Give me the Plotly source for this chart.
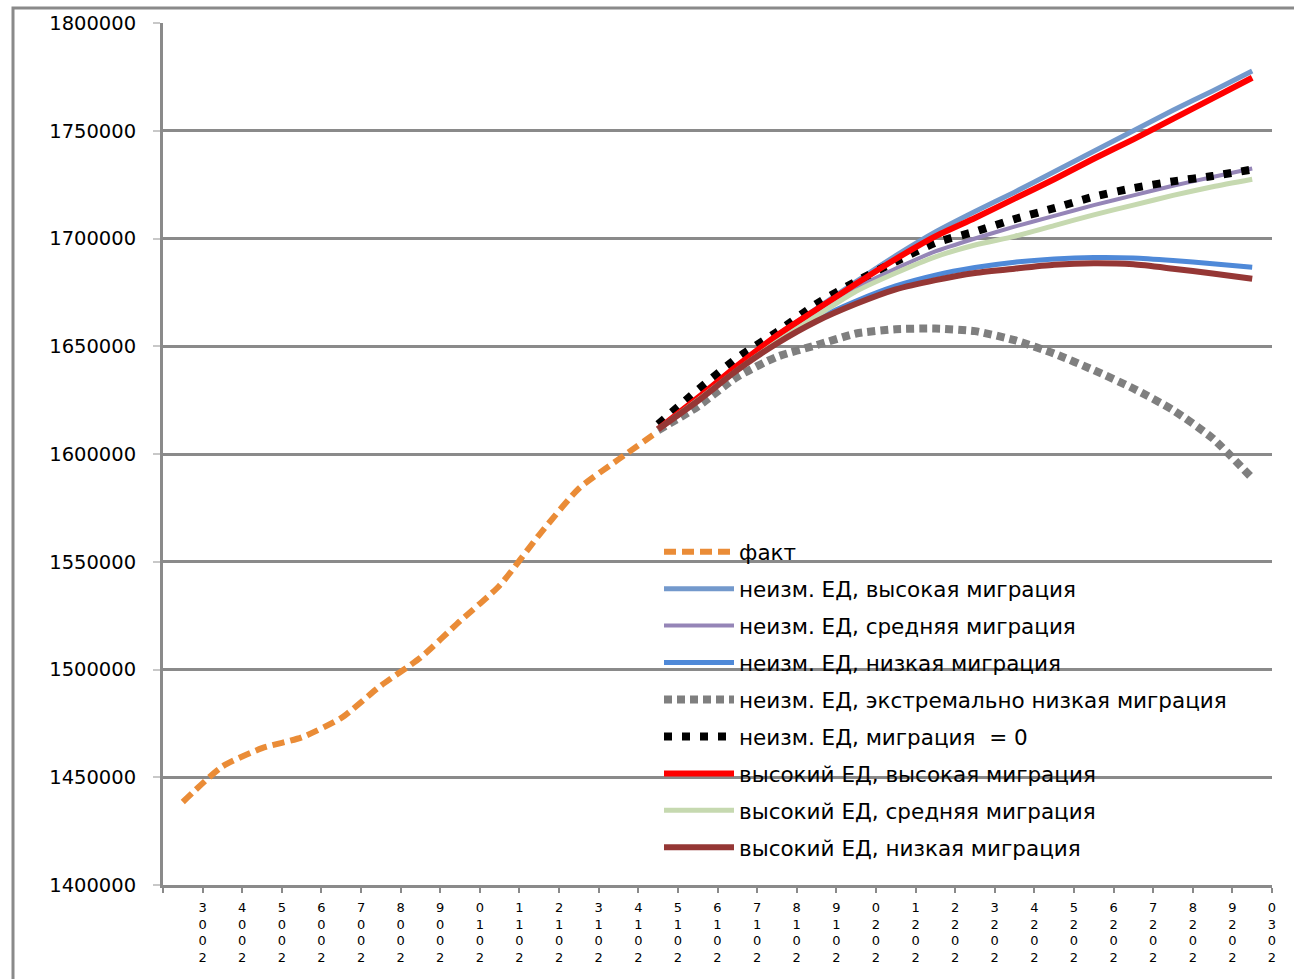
import plotly.graph_objects as go

# ---------------- data ----------------
fact_years = list(range(2003, 2016))
fact = [1438500, 1455000, 1463500, 1468500, 1477500, 1492500, 1505500,
        1522500, 1539000, 1562500, 1584000, 1597500, 1610500]

proj_years = list(range(2015, 2031))
unch_high = [1611500, 1626000, 1641000, 1655000, 1667500, 1680000, 1692000, 1703000,
             1712500, 1721500, 1731000, 1740500, 1750000, 1759500, 1768500, 1777700]
unch_mid = [1611500, 1625500, 1639500, 1652500, 1665000, 1677000, 1686000, 1694000,
            1700000, 1705500, 1710500, 1715500, 1720000, 1724500, 1728500, 1732500]
unch_low = [1611500, 1625000, 1639200, 1651800, 1662500, 1671000, 1678000, 1683000,
            1686500, 1689000, 1690500, 1691200, 1691000, 1689800, 1688300, 1686700]
unch_extlow = [1611000, 1622000, 1635800, 1645100, 1650500, 1655900, 1657900, 1658200,
               1657000, 1652800, 1646600, 1638900, 1630400, 1620400, 1607300, 1588800]
unch_zero = [1613800, 1629700, 1644600, 1656600, 1669700, 1680100, 1689300, 1698000,
             1703200, 1709000, 1714100, 1719400, 1723400, 1726500, 1729000, 1732000]
high_high = [1611500, 1626000, 1641000, 1655000, 1667000, 1679000, 1690500, 1701000,
             1709500, 1718500, 1727500, 1737000, 1746000, 1755500, 1765000, 1774600]
high_mid = [1611500, 1625000, 1639000, 1652000, 1664000, 1675500, 1684000, 1691500,
            1697000, 1701000, 1706000, 1711000, 1715500, 1720000, 1724000, 1727500]
high_low = [1611500, 1624600, 1638900, 1651300, 1661600, 1669700, 1676400, 1680700,
            1684000, 1686000, 1687800, 1688500, 1688000, 1686000, 1683800, 1681300]

label_years = list(range(2003, 2031))

names = ["факт",
         "неизм. ЕД, высокая миграция",
         "неизм. ЕД, средняя миграция",
         "неизм. ЕД, низкая миграция",
         "неизм. ЕД, экстремально низкая миграция",
         "неизм. ЕД, миграция  = 0",
         "высокий ЕД, высокая миграция",
         "высокий ЕД, средняя миграция",
         "высокий ЕД, низкая миграция"]

# ---------------- figure ----------------
series = [
    (fact_years, fact, "#EA8C37", 6, "12px,6px"),
    (proj_years, unch_high, "#7399CC", 5, "solid"),
    (proj_years, unch_mid, "#9585B7", 4, "solid"),
    (proj_years, unch_low, "#4F89D8", 5, "solid"),
    (proj_years, unch_extlow, "#7F7F7F", 8, "8px,5px"),
    (proj_years, unch_zero, "#000000", 8, "8px,10px"),
    (proj_years, high_high, "#FF0000", 6, "solid"),
    (proj_years, high_mid, "#C6D9B0", 5, "solid"),
    (proj_years, high_low, "#953735", 6, "solid"),
]

fig = go.Figure()
for i, (xs, ys, col, w, dash) in enumerate(series):
    fig.add_trace(go.Scatter(
        x=xs, y=ys, mode="lines", name=names[i], legendgroup="g%d" % i,
        line=dict(color=col, width=w, dash=dash, shape="spline", smoothing=0.6),
        hoverinfo="skip"))

L, R, T, B = 163, 22, 20, 94
W, H = 1294, 979
pw, ph = W - L - R, H - T - B
grey = "#8A8A8A"
xr = [2002.5, 2030.5]

# category boundaries carry the tick marks; labels (stacked, reversed digits)
# sit on the right boundary of each year, as in the reference
tick_pos = [label_years[0] - 0.5] + [y + 0.5 for y in label_years]
tick_txt = [""] + ["<br>".join(str(y)[::-1]) for y in label_years]

fig.update_layout(
    width=W, height=H,
    margin=dict(l=L, r=R, t=T, b=B, pad=0),
    paper_bgcolor="white", plot_bgcolor="white",
    font=dict(family="DejaVu Sans", color="black"),
    legend=dict(x=(659 - L) / pw, y=(H - B - 530) / ph, xanchor="left", yanchor="top",
                bgcolor="rgba(0,0,0,0)", font=dict(size=21.5, color="black"),
                itemwidth=70, tracegroupgap=6, traceorder="grouped"),
    xaxis=dict(range=xr, tickmode="array", tickvals=tick_pos, ticktext=tick_txt,
               tickangle=0,
               tickfont=dict(family="DejaVu Sans", size=13, color="black"),
               ticklabelstandoff=3,
               ticks="outside", ticklen=5, tickwidth=2,
               tickcolor=grey, showline=True, linecolor=grey, linewidth=3,
               showgrid=False, zeroline=False, fixedrange=True),
    yaxis=dict(range=[1400000, 1800000], dtick=50000, tick0=0, tickformat="d",
               showgrid=True, gridcolor=grey, gridwidth=2.5,
               showline=True, linecolor=grey, linewidth=3,
               ticks="outside", ticklen=7, tickwidth=2, tickcolor="#C8C8C8",
               tickfont=dict(family="DejaVu Sans", size=19.5, color="black"),
               ticklabelstandoff=13, zeroline=False, fixedrange=True),
    shapes=[dict(type="rect", xref="paper", yref="paper",
                 x0=(13 - L) / pw, x1=(W + 30 - L) / pw,
                 y0=-(H + 30 - (H - B)) / ph, y1=(H - B - 5) / ph,
                 line=dict(color=grey, width=3), fillcolor="rgba(0,0,0,0)", layer="above")],
)

fig.write_html("out.html", config={"displayModeBar": False},
               post_script="document.body.style.margin='0';document.body.style.overflow='hidden';")
